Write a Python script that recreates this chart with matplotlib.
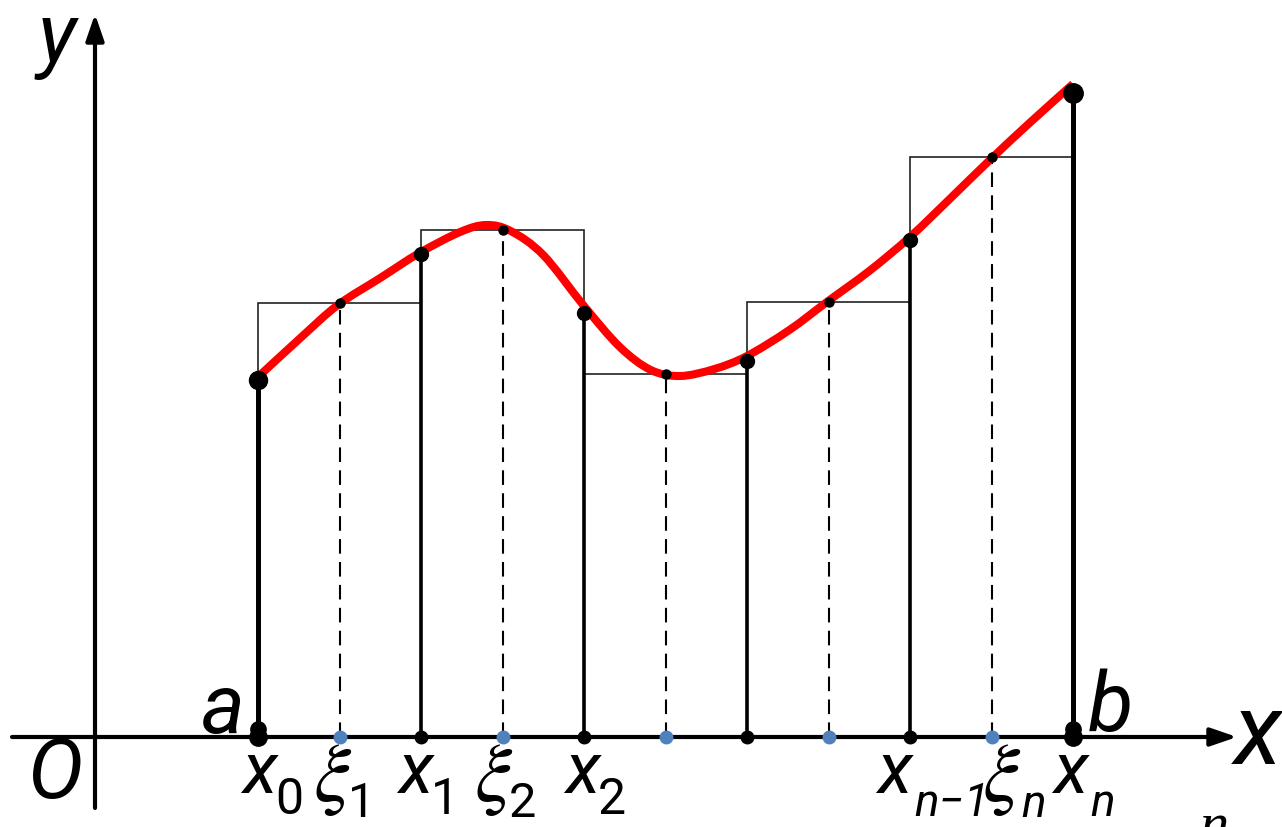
import matplotlib
matplotlib.use("Agg")
import matplotlib.pyplot as plt
from matplotlib.patches import Rectangle, PathPatch
from matplotlib.path import Path
from matplotlib.transforms import offset_copy

# ---- data ----
nodes_x = [1, 2, 3, 4, 5, 6]
nodes_y = [3.57, 4.83, 4.24, 3.76, 4.97, 6.44]
xi_x = [1.5, 2.5, 3.5, 4.5, 5.5]
xi_y = [4.34, 5.07, 3.63, 4.35, 5.80]
curve_x = [1.00, 1.26, 1.49, 1.75, 1.99, 2.24, 2.40, 2.55, 2.75, 3.00, 3.22, 3.41,
           3.59, 3.80, 4.00, 4.26, 4.49, 4.75, 5.00, 5.25, 5.49, 5.74, 6.00]
curve_y = [3.60, 3.99, 4.32, 4.59, 4.84, 5.05, 5.12, 5.06, 4.82, 4.31, 3.90, 3.67,
           3.61, 3.68, 3.81, 4.07, 4.35, 4.66, 5.00, 5.39, 5.77, 6.15, 6.53]
x_subs = ["0", "1", "2", None, "n\u22121", "n"]
xi_subs = ["1", "2", None, None, "n"]

W, H = 1282, 827
fig = plt.figure(figsize=(W / 100, H / 100), dpi=100)
ax = fig.add_axes([0, 0, 1, 1])
X0, Y0, SX, SY = 95, 737, 163, 100
ax.set_xlim((0 - X0) / SX, (W - X0) / SX)
ax.set_ylim((Y0 - H) / SY, Y0 / SY)
ax.axis("off")

def fp(px, py):
    return px / W, 1 - py / H

# axes arrows
arrow = dict(arrowstyle="-|>,head_length=1.6,head_width=0.55", lw=3, color="black",
             shrinkA=0, shrinkB=0)
ax.annotate("", xy=fp(1237, 737), xytext=fp(12, 737), xycoords="figure fraction", arrowprops=arrow)
ax.annotate("", xy=fp(95, 14), xytext=fp(95, 808), xycoords="figure fraction", arrowprops=arrow)

# rectangles
for i in range(len(xi_x)):
    ax.add_patch(Rectangle((nodes_x[i], 0), nodes_x[i + 1] - nodes_x[i], xi_y[i],
                           fill=False, edgecolor="#222222", lw=1.2, zorder=2))

# dashed lines at xi
for x, y in zip(xi_x, xi_y):
    ax.plot([x, x], [0, y], color="black", lw=1.5, dashes=(7, 4), zorder=3)

# node verticals
for i, (x, y) in enumerate(zip(nodes_x, nodes_y)):
    lw = 3.6 if i in (0, len(nodes_x) - 1) else 2.6
    ax.plot([x, x], [0, y], color="black", lw=lw, solid_capstyle="butt", zorder=3)

# smooth curve through the read points (Catmull-Rom as cubic Bezier path)
pts = list(zip(curve_x, curve_y))
verts = [pts[0]]
codes = [Path.MOVETO]
n = len(pts)
for i in range(n - 1):
    p0 = pts[i - 1] if i > 0 else pts[i]
    p1 = pts[i]
    p2 = pts[i + 1]
    p3 = pts[i + 2] if i + 2 < n else pts[i + 1]
    c1 = (p1[0] + (p2[0] - p0[0]) / 6, p1[1] + (p2[1] - p0[1]) / 6)
    c2 = (p2[0] - (p3[0] - p1[0]) / 6, p2[1] - (p3[1] - p1[1]) / 6)
    verts += [c1, c2, p2]
    codes += [Path.CURVE4] * 3
ax.add_patch(PathPatch(Path(verts, codes), fill=False, edgecolor="#ff0000", lw=5.8,
                       capstyle="butt", zorder=4))

# dots
ax.plot(nodes_x[1:-1], nodes_y[1:-1], "o", color="black", ms=10, zorder=5)
ax.plot([nodes_x[0]], [nodes_y[0]], "o", color="black", ms=13, zorder=5)
ax.plot([nodes_x[-1]], [nodes_y[-1]], "o", color="black", ms=14, zorder=5)
ax.plot(xi_x, xi_y, "o", color="black", ms=6.5, zorder=5)
ax.plot(xi_x, [0] * len(xi_x), "o", color="#4f81bd", ms=9, zorder=5)
ax.plot(nodes_x[1:-1], [0] * (len(nodes_x) - 2), "o", color="black", ms=9, zorder=5)
for x in (nodes_x[0], nodes_x[-1]):
    ax.plot([x], [0], "o", color="black", ms=12.5, zorder=5)
    tr = offset_copy(ax.transData, fig=fig, x=0, y=8, units="dots")
    ax.plot([x], [0], "o", color="black", ms=11, zorder=5, transform=tr)

# labels
sans = dict(family="Roboto", style="italic", color="black")
upr = dict(family="Roboto", color="black")

def t(px, py, s, size, ha="center", va="center", **kw):
    fig.text(*fp(px, py), s, fontsize=size, ha=ha, va=va, **kw)

t(57, 40, "y", 60, **sans)
t(55, 775, "O", 60, **sans)
t(223, 710, "a", 60, **sans)
t(1110, 708, "b", 60, **sans)
t(1258, 737, "x", 72, **sans)

x_left = [242, 398, 565, None, 877, 1053]
for i, s in enumerate(x_subs):
    if s is None:
        continue
    t(x_left[i], 793, "x", 52, ha="left", va="baseline", **sans)
    if s.startswith("n"):
        t(x_left[i] + 37, 816, s, 33, ha="left", va="baseline", **sans)
    else:
        t(x_left[i] + 33, 814, s, 36, ha="left", va="baseline", **upr)

xi_left = [313, 474, None, None, 982]
for i, s in enumerate(xi_subs):
    if s is None:
        continue
    t(xi_left[i], 801, r"$\xi$", 60, ha="left", va="baseline", math_fontfamily="stix", color="black")
    if s == "n":
        t(xi_left[i] + 39, 817, s, 33, ha="left", va="baseline", **sans)
    else:
        t(xi_left[i] + 35, 817, s, 35, ha="left", va="baseline", **upr)

t(1200, 842, "n", 42, ha="left", va="baseline", family="Liberation Serif", style="italic")

fig.savefig("out.png", dpi=100)
